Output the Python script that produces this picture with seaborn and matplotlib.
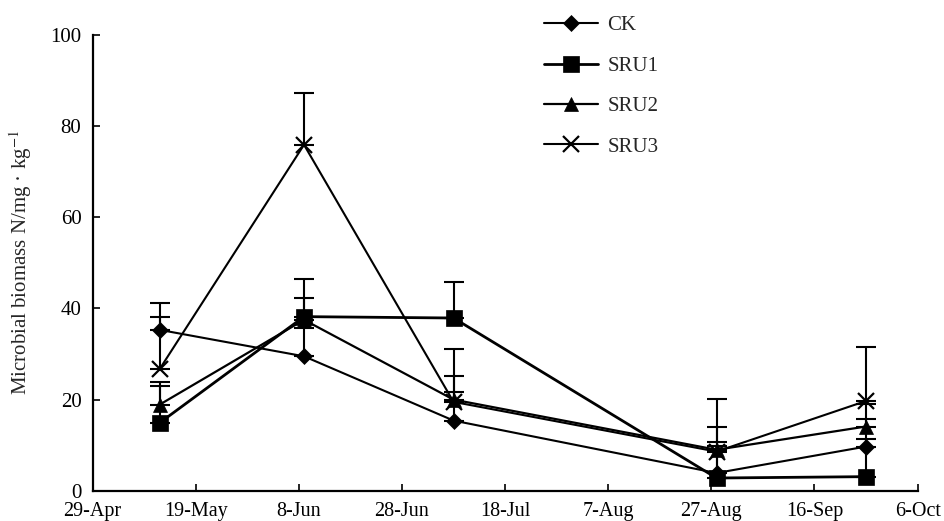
import matplotlib
matplotlib.use("Agg")
import matplotlib.pyplot as plt
import seaborn as sns
import pandas as pd
import numpy as np

dates = ["2008-05-12", "2008-06-09", "2008-07-08", "2008-08-28", "2008-09-26"]
series = ["CK", "SRU1", "SRU2", "SRU3"]
ck = [35.3, 29.5, 15.4, 3.9, 9.7]
sru1 = [14.9, 38.2, 37.9, 2.8, 3.1]
sru2 = [18.9, 37.5, 20.0, 9.0, 14.1]
sru3 = [26.7, 75.9, 19.5, 8.6, 19.7]
ck_err = [6.0, 6.2, 6.2, 6.0, 6.0]
sru1_err = [8.1, 8.3, 7.8, 7.9, 8.2]
sru2_err = [4.9, 4.8, 5.1, 5.0, 5.0]
sru3_err = [11.5, 11.3, 11.6, 11.5, 11.8]
tick_labels = ["29-Apr", "19-May", "8-Jun", "28-Jun", "18-Jul", "7-Aug", "27-Aug", "16-Sep", "6-Oct"]

values = {"CK": ck, "SRU1": sru1, "SRU2": sru2, "SRU3": sru3}
errors = {"CK": ck_err, "SRU1": sru1_err, "SRU2": sru2_err, "SRU3": sru3_err}

rows = []
for s in series:
    for d, v, e in zip(dates, values[s], errors[s]):
        rows.append({"date": pd.Timestamp(d), "value": v, "err": e, "series": s})
df = pd.DataFrame(rows)

sns.set_theme(style="ticks")
plt.rcParams["font.family"] = ["Liberation Serif", "DejaVu Serif"]
plt.rcParams["mathtext.fontset"] = "stix"

fig = plt.figure(figsize=(9.45, 5.21), dpi=100)
ax = fig.add_axes([0.098, 0.058, 0.873, 0.875])

markers = {"CK": "D", "SRU1": "s", "SRU2": "^", "SRU3": "x"}
msizes = {"CK": 8, "SRU1": 11, "SRU2": 10, "SRU3": 11}
lws = {"CK": 1.5, "SRU1": 2.0, "SRU2": 1.6, "SRU3": 1.5}

for s in series:
    sub = df[df["series"] == s]
    ax.errorbar(sub["date"], sub["value"], yerr=[np.zeros(len(sub)), sub["err"]],
                fmt="none", ecolor="black", elinewidth=1.5, capsize=7, capthick=1.5, zorder=2)
    sns.lineplot(data=sub, x="date", y="value", ax=ax, color="black",
                 marker=markers[s], markersize=msizes[s], markeredgewidth=1.6 if s == "SRU3" else 0.5,
                 markeredgecolor="black", markerfacecolor="black",
                 linewidth=lws[s], label=s, zorder=3)

tick_dates = pd.date_range("2008-04-29", periods=9, freq="20D")
ax.set_xticks(tick_dates)
ax.set_xticklabels(tick_labels)
ax.set_xlim(tick_dates[0], tick_dates[-1])
ax.set_ylim(0, 100)
ax.set_yticks([0, 20, 40, 60, 80, 100])
ax.set_xlabel("")
ax.set_ylabel("Microbial biomass N/mg · kg$^{-1}$", fontsize=15, labelpad=12)

for sp in ["top", "right"]:
    ax.spines[sp].set_visible(False)
for sp in ["left", "bottom"]:
    ax.spines[sp].set_linewidth(1.6)
    ax.spines[sp].set_color("black")
ax.tick_params(axis="both", direction="in", length=5, width=1.2, labelsize=15, colors="black")
ax.tick_params(axis="x", pad=8, labelsize=14.5)
ax.tick_params(axis="y", pad=8)

leg = ax.legend(loc="upper left", bbox_to_anchor=(0.524, 1.083), frameon=False, fontsize=15,
                labelspacing=1.0, handlelength=2.6, handletextpad=0.45)

fig.savefig("out.png", dpi=100)
